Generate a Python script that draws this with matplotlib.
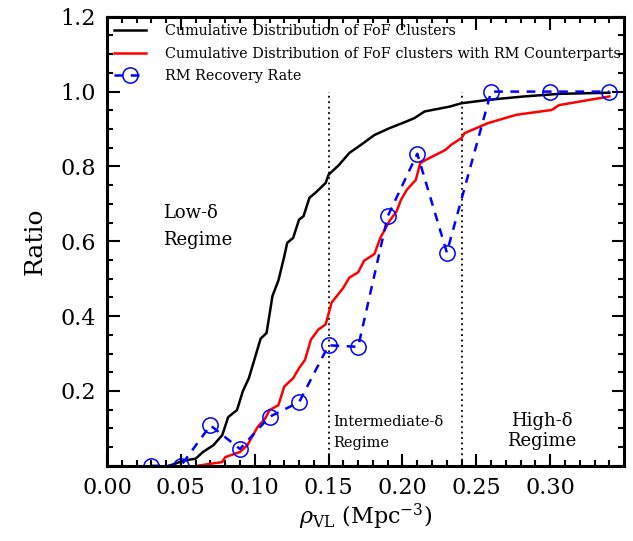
import matplotlib
matplotlib.use("Agg")
import matplotlib.pyplot as plt
from matplotlib.ticker import MultipleLocator

plt.rcParams['font.family'] = ['DejaVu Serif']
plt.rcParams['mathtext.fontset'] = 'dejavuserif'

# cumulative distribution of all FoF clusters
fof_x = [0.042, 0.052, 0.060, 0.065, 0.072, 0.078, 0.082, 0.088, 0.092, 0.096,
         0.101, 0.104, 0.108, 0.112, 0.116, 0.120, 0.122, 0.126, 0.130, 0.133,
         0.137, 0.142, 0.148, 0.150, 0.157, 0.164, 0.172, 0.181, 0.191, 0.200,
         0.208, 0.215, 0.232, 0.240, 0.258, 0.282, 0.306, 0.340]
fof_y = [0.000, 0.014, 0.019, 0.037, 0.055, 0.082, 0.130, 0.149, 0.200, 0.234,
         0.300, 0.340, 0.355, 0.454, 0.495, 0.560, 0.596, 0.609, 0.658, 0.667,
         0.716, 0.733, 0.756, 0.778, 0.804, 0.836, 0.858, 0.884, 0.902, 0.916,
         0.929, 0.947, 0.960, 0.969, 0.978, 0.987, 0.994, 0.997]

# cumulative distribution of FoF clusters with RM counterparts
rm_x = [0.061, 0.078, 0.080, 0.090, 0.095, 0.102, 0.107, 0.110, 0.116, 0.120,
        0.126, 0.130, 0.134, 0.138, 0.143, 0.148, 0.152, 0.160, 0.164, 0.170,
        0.174, 0.181, 0.185, 0.191, 0.196, 0.199, 0.203, 0.209, 0.212, 0.216,
        0.229, 0.233, 0.240, 0.242, 0.258, 0.277, 0.301, 0.306, 0.340]
rm_y = [0.000, 0.010, 0.023, 0.037, 0.055, 0.104, 0.126, 0.149, 0.162, 0.212,
        0.234, 0.261, 0.283, 0.337, 0.364, 0.378, 0.436, 0.476, 0.503, 0.517,
        0.548, 0.566, 0.609, 0.653, 0.680, 0.711, 0.738, 0.764, 0.809, 0.818,
        0.844, 0.858, 0.876, 0.889, 0.916, 0.938, 0.951, 0.964, 0.987]

# RM recovery rate
rate_x = [0.03, 0.05, 0.07, 0.09, 0.11, 0.13, 0.15, 0.17, 0.19, 0.21, 0.23, 0.26, 0.30, 0.34]
rate_y = [0.0, 0.0, 0.108, 0.045, 0.131, 0.170, 0.322, 0.318, 0.667, 0.834, 0.570, 1.0, 1.0, 1.0]

regime_edges = [0.15, 0.24]

fig = plt.figure(figsize=(6.33, 5.41), dpi=100)
ax = fig.add_axes([0.169, 0.139, 0.817, 0.830])

for xe in regime_edges:
    ax.plot([xe, xe], [0, 1.0], color='black', ls=(0, (1, 2)), lw=1.3)

ax.plot(fof_x, fof_y, color='black', lw=1.8, label='Cumulative Distribution of FoF Clusters')
ax.plot(rm_x, rm_y, color='red', lw=1.8,
        label='Cumulative Distribution of FoF clusters with RM Counterparts')
ax.plot(rate_x, rate_y, color='blue', lw=1.8, ls=(0, (3.5, 3)), marker='o', ms=11,
        mfc='none', mec='blue', mew=1.1, label='RM Recovery Rate')

ax.text(0.038, 0.676, 'Low-δ', fontsize=13, va='center')
ax.text(0.038, 0.604, 'Regime', fontsize=13, va='center')
ax.text(0.153, 0.118, 'Intermediate-δ', fontsize=10.5, va='center')
ax.text(0.153, 0.061, 'Regime', fontsize=10.5, va='center')
ax.text(0.294, 0.120, 'High-δ', fontsize=13, va='center', ha='center')
ax.text(0.294, 0.067, 'Regime', fontsize=13, va='center', ha='center')

ax.set_xlim(0, 0.35)
ax.set_ylim(0, 1.2)
ax.set_xticks([0.0, 0.05, 0.10, 0.15, 0.20, 0.25, 0.30])
ax.set_xticklabels(['0.00', '0.05', '0.10', '0.15', '0.20', '0.25', '0.30'])
ax.set_yticks([0.0, 0.2, 0.4, 0.6, 0.8, 1.0, 1.2])
ax.set_yticklabels(['', '0.2', '0.4', '0.6', '0.8', '1.0', '1.2'])
ax.xaxis.set_minor_locator(MultipleLocator(0.01))
ax.yaxis.set_minor_locator(MultipleLocator(0.05))
ax.tick_params(which='both', direction='in', top=True, right=True, labelsize=16, width=1.5)
ax.tick_params(which='major', length=9, pad=8)
ax.tick_params(which='minor', length=4.5)
for s in ax.spines.values():
    s.set_linewidth(2.2)

ax.set_xlabel(r'$\rho_{\rm VL}$ (Mpc$^{-3}$)', fontsize=16, labelpad=2)
ax.set_ylabel('Ratio', fontsize=18, labelpad=10)

ax.legend(loc='upper left', frameon=False, fontsize=10.4, handlelength=2.2,
          handletextpad=1.3, labelspacing=0.6, borderaxespad=0.2, borderpad=0.3)

fig.savefig('out.png', dpi=100)
